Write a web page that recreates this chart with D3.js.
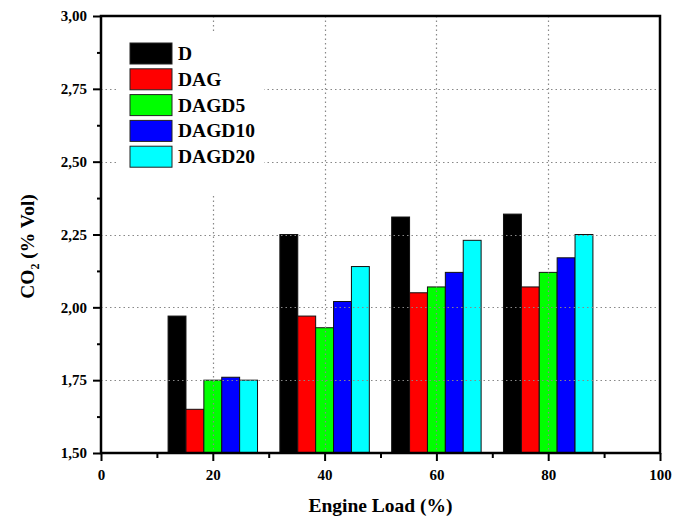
<!DOCTYPE html>
<html>
<head>
<meta charset="utf-8">
<script src="https://cdn.jsdelivr.net/npm/d3@7"></script>
<style>
  body { margin: 0; background: #fff; }
  text { font-family: "Liberation Serif", "Times New Roman", serif; font-weight: bold; }
</style>
</head>
<body>
<div class="chart"></div>
<script>
// data
var loads = [20, 40, 60, 80];
var seriesNames = ["D", "DAG", "DAGD5", "DAGD10", "DAGD20"];
var colors = ["#000000", "#ff0000", "#00ff00", "#0000ff", "#00ffff"];
var D      = [1.97, 2.25, 2.31, 2.32];
var DAG    = [1.65, 1.97, 2.05, 2.07];
var DAGD5  = [1.75, 1.93, 2.07, 2.12];
var DAGD10 = [1.76, 2.02, 2.12, 2.17];
var DAGD20 = [1.75, 2.14, 2.23, 2.25];
var yTicks = [1.5, 1.75, 2.0, 2.25, 2.5, 2.75, 3.0];
var xTicks = [0, 20, 40, 60, 80, 100];

var values = [D, DAG, DAGD5, DAGD10, DAGD20];

// graph
var W = 681, H = 519,
    margin = {top: 16, right: 21, bottom: 66, left: 101},
    width = W - margin.left - margin.right,
    height = H - margin.top - margin.bottom;

var svg = d3.select(".chart").append("svg")
    .attr("width", W)
    .attr("height", H)
  .append("g")
    .attr("transform", "translate(" + margin.left + "," + margin.top + ")");

var x = d3.scaleLinear().domain([0, 100]).range([0, width]);
var y = d3.scaleLinear().domain([1.5, 3.0]).range([height, 0]);
var fmt = function(d) { return d3.format(".2f")(d).replace(".", ","); };

var barW = 3.2; // in load units

// bars
var bars = [];
values.forEach(function(s, si) {
  s.forEach(function(v, li) {
    bars.push({s: si, load: loads[li], v: v});
  });
});

svg.selectAll(".bar")
    .data(bars)
  .enter().append("rect")
    .attr("class", "bar")
    .attr("x", d => x(d.load + (d.s - 2.5) * barW))
    .attr("width", d => x(barW) - x(0))
    .attr("y", d => y(d.v))
    .attr("height", d => y(1.5) - y(d.v))
    .attr("fill", d => colors[d.s])
    .attr("stroke", "#111")
    .attr("stroke-width", 1);

// grid on top of bars
svg.selectAll(".hgrid")
    .data(yTicks.filter(d => d > 1.5 && d < 3))
  .enter().append("line")
    .attr("x1", 0).attr("x2", width)
    .attr("y1", d => Math.round(y(d)) + 0.5).attr("y2", d => Math.round(y(d)) + 0.5)
    .attr("stroke", "#888").attr("stroke-width", 1.2)
    .attr("stroke-dasharray", "1.5,3");

svg.selectAll(".vgrid")
    .data(xTicks.filter(d => d > 0 && d < 100))
  .enter().append("line")
    .attr("y1", 0).attr("y2", height)
    .attr("x1", d => Math.round(x(d)) + 0.5).attr("x2", d => Math.round(x(d)) + 0.5)
    .attr("stroke", "#888").attr("stroke-width", 1.2)
    .attr("stroke-dasharray", "1.5,3");

// axes
var yAxis = svg.append("g")
    .call(d3.axisLeft(y).tickValues(yTicks).tickFormat(fmt).tickSize(8).tickPadding(6));
var yMinor = svg.append("g")
    .call(d3.axisLeft(y).tickValues(d3.range(1.625, 3, 0.25)).tickFormat("").tickSize(4));
var xAxis = svg.append("g")
    .attr("transform", "translate(0," + height + ")")
    .call(d3.axisBottom(x).tickValues(xTicks).tickFormat(d3.format("d")).tickSize(8).tickPadding(8));
var xMinor = svg.append("g")
    .attr("transform", "translate(0," + height + ")")
    .call(d3.axisBottom(x).tickValues([10, 30, 50, 70, 90]).tickFormat("").tickSize(5));

[yAxis, yMinor, xAxis, xMinor].forEach(function(g) {
  g.select(".domain").remove();
  g.selectAll("line").attr("stroke", "#000").attr("stroke-width", 2);
  g.selectAll("text").attr("fill", "#000").style("font-size", "15px");
});

// frame
svg.append("rect")
    .attr("width", width).attr("height", height)
    .attr("fill", "none").attr("stroke", "#000").attr("stroke-width", 2.5);

// axis labels
svg.append("text")
    .attr("x", width / 2).attr("y", height + 59)
    .attr("text-anchor", "middle")
    .style("font-size", "19.5px")
    .text("Engine Load (%)");

var yl = svg.append("text")
    .attr("transform", "translate(-67," + (height / 2 + 12) + ") rotate(-90)")
    .attr("text-anchor", "middle")
    .style("font-size", "19.5px");
yl.append("tspan").text("CO");
yl.append("tspan").attr("dy", 5).style("font-size", "12px").text("2");
yl.append("tspan").attr("dy", -5).text(" (% Vol)");

// legend (white box hides grid behind it)
var legend = svg.append("g").attr("transform", "translate(29,27)");
legend.append("rect")
    .attr("x", -14).attr("y", -11)
    .attr("width", 148).attr("height", 163)
    .attr("fill", "#fff");
var item = legend.selectAll(".item")
    .data(seriesNames)
  .enter().append("g")
    .attr("transform", (d, i) => "translate(0," + (i * 25.8) + ")");
item.append("rect")
    .attr("width", 42).attr("height", 21)
    .attr("fill", (d, i) => colors[i])
    .attr("stroke", "#222").attr("stroke-width", 1);
item.append("text")
    .attr("x", 48).attr("y", 17)
    .style("font-size", "19.5px")
    .attr("fill", "#000")
    .text(d => d);
</script>
</body>
</html>
